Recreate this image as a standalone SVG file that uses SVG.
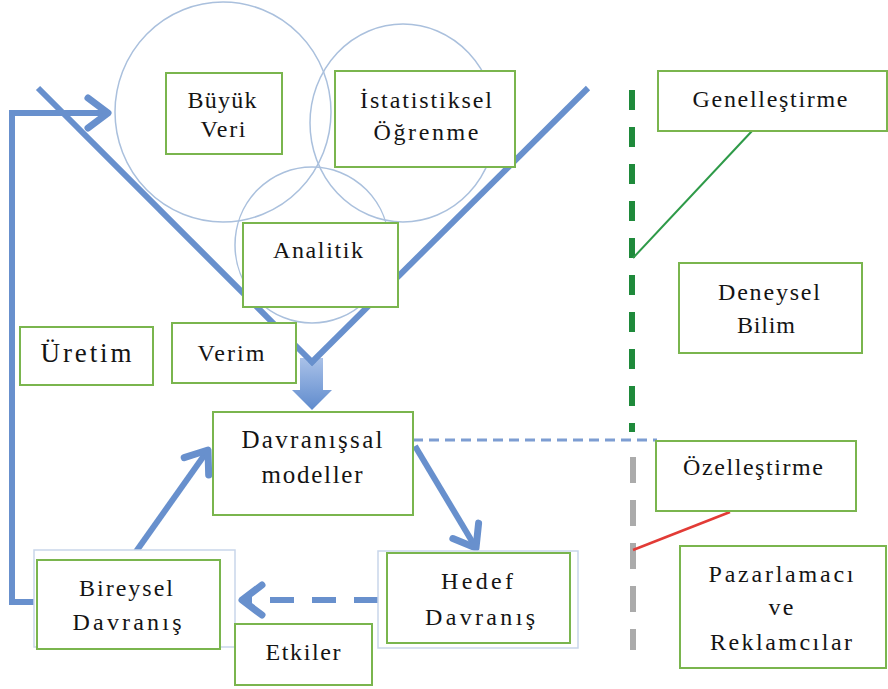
<svg xmlns="http://www.w3.org/2000/svg" width="888" height="689" viewBox="0 0 888 689">
<defs>
<style>
.box{fill:#fff;stroke:#7ab54e;stroke-width:2}
.back{fill:#fff;stroke:#c9d6ea;stroke-width:1.5}
.circ{fill:none;stroke:#aac0dd;stroke-width:1.5}
.t{font-family:'Liberation Serif','Times New Roman',serif;font-size:24px;fill:#141414;text-anchor:middle}
.blue{fill:none;stroke:#6890cd;stroke-width:6;stroke-linecap:butt}
</style>
<marker id="chev" markerUnits="userSpaceOnUse" markerWidth="40" markerHeight="40" viewBox="-30 -20 40 40" refX="0" refY="0" orient="auto" overflow="visible">
<path d="M-20,-15 L0,0 L-20,15" fill="none" stroke="#6890cd" stroke-width="7" stroke-linecap="round" stroke-linejoin="round"/>
</marker>
<linearGradient id="bg" x1="0" y1="0" x2="0" y2="1">
<stop offset="0" stop-color="#a9c1e8"/>
<stop offset="1" stop-color="#5f8bcd"/>
</linearGradient>
</defs>

<g id="circles">
<ellipse class="circ" cx="223" cy="112" rx="108" ry="110"/>
<ellipse class="circ" cx="403" cy="123" rx="93" ry="99"/>
<ellipse class="circ" cx="312" cy="245" rx="77" ry="78"/>
</g>

<g id="connectors">
<path d="M300,358 L323,358 L323,390 L332,390 L312,410 L292,390 L300,390 Z" fill="url(#bg)"/>
<line class="blue" x1="38" y1="88" x2="314" y2="364"/>
<line class="blue" x1="588" y1="88" x2="310" y2="364"/>
<polyline class="blue" stroke-width="7" points="37,602 12,602 12,113 108,113" marker-end="url(#chev)"/>
<line class="blue" stroke-width="7" x1="135" y1="553" x2="208" y2="450" marker-end="url(#chev)"/>
<line class="blue" stroke-width="7" x1="415" y1="446" x2="476" y2="548" marker-end="url(#chev)"/>
<line class="blue" stroke-width="7" stroke-dasharray="24 18" x1="378" y1="600" x2="242" y2="600" marker-end="url(#chev)"/>
<line x1="413" y1="440" x2="657" y2="440" stroke="#7d9dd2" stroke-width="3" stroke-dasharray="10 6"/>
<line x1="632" y1="90" x2="632" y2="432" stroke="#1f8a3b" stroke-width="6" stroke-dasharray="20 17"/>
<line x1="752" y1="131" x2="633" y2="258" stroke="#2e9a48" stroke-width="2"/>
<line x1="633" y1="457" x2="633" y2="650" stroke="#ababab" stroke-width="6" stroke-dasharray="26 17"/>
<line x1="633" y1="550" x2="730" y2="512" stroke="#e23b36" stroke-width="2.5"/>
</g>

<g id="buyuk-veri">
<rect class="box" x="166" y="73" width="116" height="81"/>
<text class="t" x="222" y="108" textLength="69" lengthAdjust="spacing">Büyük</text>
<text class="t" x="223" y="137" textLength="45" lengthAdjust="spacing">Veri</text>
</g>

<g id="istatistiksel">
<rect class="box" x="335" y="71" width="180" height="96"/>
<text class="t" x="426" y="108" textLength="132" lengthAdjust="spacing">İstatistiksel</text>
<text class="t" x="426" y="140" textLength="105" lengthAdjust="spacing">Öğrenme</text>
</g>

<g id="analitik">
<rect class="box" x="243" y="223" width="155" height="84"/>
<text class="t" x="318" y="258" textLength="90" lengthAdjust="spacing">Analitik</text>
</g>

<g id="uretim">
<rect class="box" x="20" y="327" width="133" height="58"/>
<text class="t" x="86" y="362" style="font-size:27px" textLength="91" lengthAdjust="spacing">Üretim</text>
</g>

<g id="verim">
<rect class="box" x="172" y="323" width="124" height="60"/>
<text class="t" x="231" y="361" textLength="67" lengthAdjust="spacing">Verim</text>
</g>

<g id="davranissal">
<rect class="box" x="213" y="412" width="200" height="103"/>
<text class="t" x="312" y="448" style="font-size:25px" textLength="141" lengthAdjust="spacing">Davranışsal</text>
<text class="t" x="312" y="483" style="font-size:25px" textLength="101" lengthAdjust="spacing">modeller</text>
</g>

<g id="bireysel">
<rect class="back" x="34" y="550" width="201" height="97"/>
<rect class="box" x="37" y="560" width="183" height="89"/>
<text class="t" x="126" y="596" textLength="94" lengthAdjust="spacing">Bireysel</text>
<text class="t" x="127" y="630" textLength="109" lengthAdjust="spacing">Davranış</text>
</g>

<g id="hedef">
<rect class="back" x="378" y="551" width="200" height="97"/>
<rect class="box" x="387" y="553" width="183" height="90"/>
<text class="t" x="477" y="589" textLength="72" lengthAdjust="spacing">Hedef</text>
<text class="t" x="480" y="625" textLength="110" lengthAdjust="spacing">Davranış</text>
</g>

<g id="etkiler">
<rect class="box" x="235" y="624" width="137" height="61"/>
<text class="t" x="303" y="660" textLength="75" lengthAdjust="spacing">Etkiler</text>
</g>

<g id="genellestirme">
<rect class="box" x="658" y="71" width="229" height="60"/>
<text class="t" x="770" y="107" textLength="155" lengthAdjust="spacing">Genelleştirme</text>
</g>

<g id="deneysel">
<rect class="box" x="679" y="263" width="183" height="90"/>
<text class="t" x="769" y="300" textLength="102" lengthAdjust="spacing">Deneysel</text>
<text class="t" x="766" y="333" textLength="58" lengthAdjust="spacing">Bilim</text>
</g>

<g id="ozellestirme">
<rect class="box" x="656" y="441" width="200" height="70"/>
<text class="t" x="753" y="475" textLength="140" lengthAdjust="spacing">Özelleştirme</text>
</g>

<g id="pazarlamaci">
<rect class="box" x="680" y="546" width="206" height="122"/>
<text class="t" x="781" y="582" textLength="145" lengthAdjust="spacing">Pazarlamacı</text>
<text class="t" x="781" y="615" textLength="25" lengthAdjust="spacing">ve</text>
<text class="t" x="781" y="650" textLength="142" lengthAdjust="spacing">Reklamcılar</text>
</g>
</svg>
